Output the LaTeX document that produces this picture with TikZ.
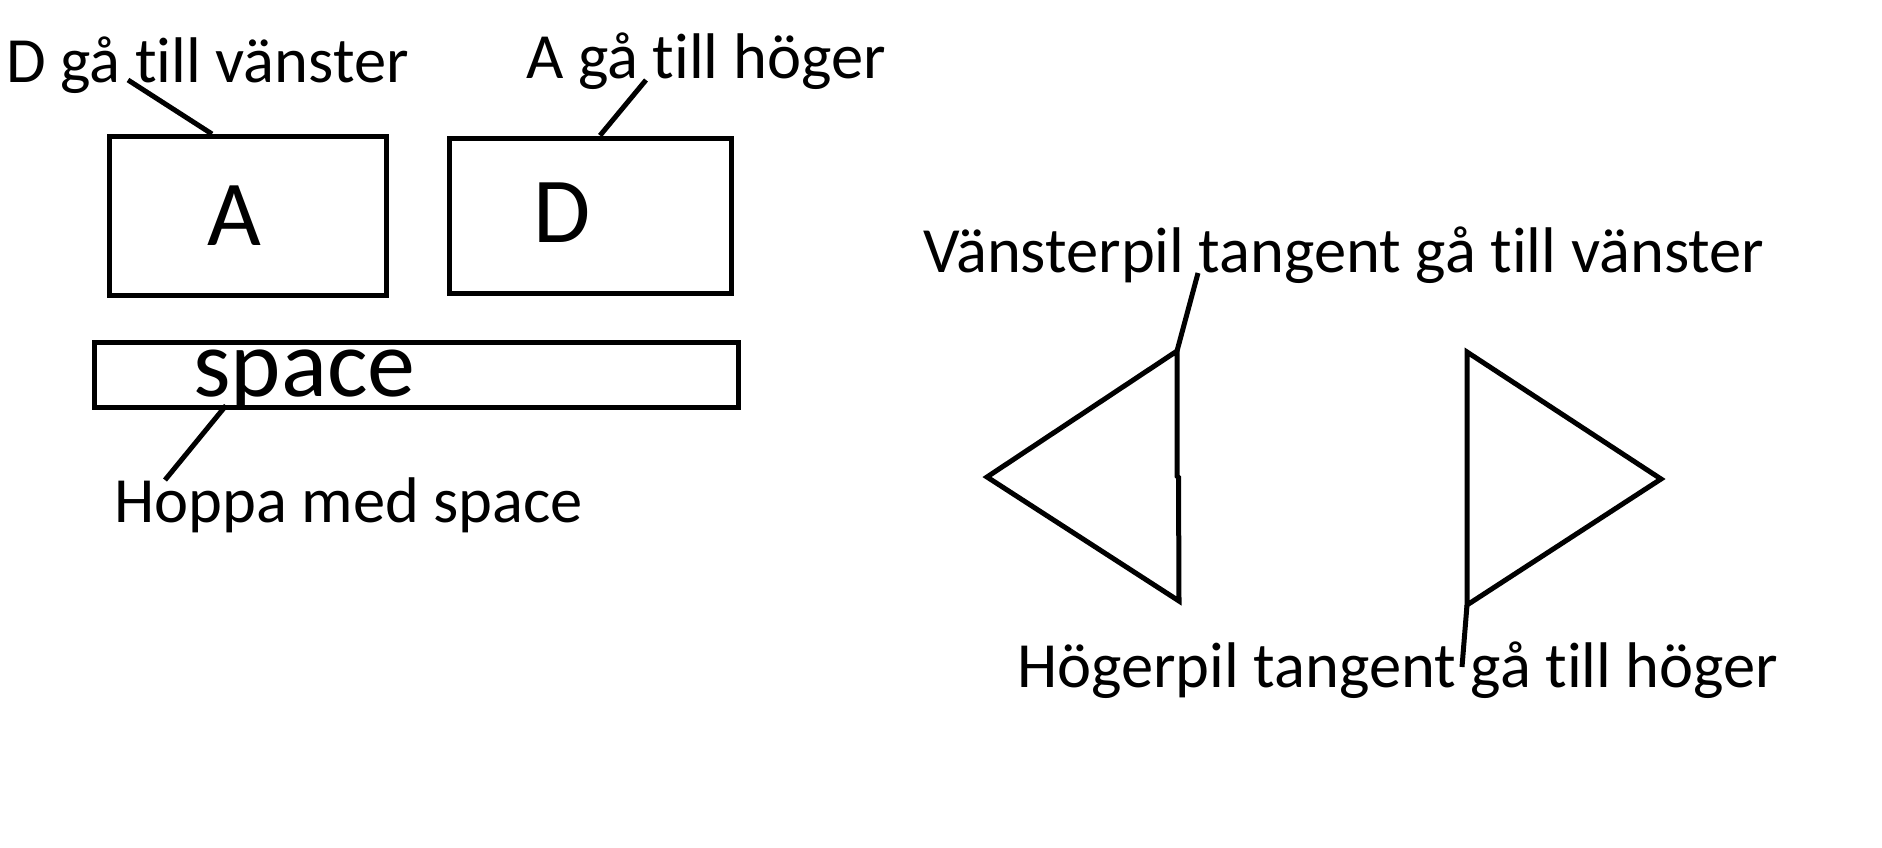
\documentclass[tikz,border=0pt]{standalone}
\usepackage{fontspec}
\setmainfont{Carlito}[RawFeature={-liga}]
\begin{document}
\begin{tikzpicture}[x=1pt,y=-1pt,
  ln/.style={line width=5pt, black},
  keybox/.style={draw, line width=5pt, rectangle, inner sep=0pt, anchor=north west},
  lbl/.style={inner sep=0pt, anchor=base west, font=\fontsize{64.5}{64.5}\selectfont},
  bigl/.style={inner sep=0pt, anchor=base west, font=\fontsize{93}{93}\selectfont}]
\useasboundingbox (0,0) rectangle (1882,847);
% boxes
\node[keybox, minimum width=277pt, minimum height=159pt] (boxA) at (107,134) {};
\node[keybox, minimum width=282pt, minimum height=155pt] (boxD) at (447,135.5) {};
\node[keybox, minimum width=644pt, minimum height=65pt] (boxS) at (92,340) {};
% letters in boxes
\node[bigl] (letA) at (207,245) {A};
\node[bigl] (letD) at (533,242) {D};
\begin{scope}
\clip (92,340) rectangle (736,405.5);
\node[inner sep=0pt, anchor=base west, font=\fontsize{96}{96}\selectfont] (letS) at (193,396) {space};
\end{scope}
% labels
\node[lbl] (labA) at (6,82) {D gå till vänster};
\node[lbl] (labD) at (526,78) {A gå till höger};
\node[lbl] (labS) at (114,522) {Hoppa med space};
\node[lbl] (labL) at (923,272) {Vänsterpil tangent gå till vänster};
\node[lbl] (labR) at (1017,687) {Högerpil tangent gå till höger};
% leader end points
\coordinate (a1) at (212,134);
\coordinate (a2) at (128,80);
\coordinate (d1) at (600,135.5);
\coordinate (d2) at (646,80);
\coordinate (s1) at (226,405.5);
\coordinate (s2) at (165,480);
% triangles
\coordinate (lt) at (987,477);
\coordinate (ltop) at (1177,351);
\coordinate (lmid) at (1177,476);
\coordinate (lmid2) at (1178.5,477.5);
\coordinate (lbot) at (1179,601);
\coordinate (l2) at (1198,273);
\coordinate (rtop) at (1467,352);
\coordinate (rbot) at (1467,605);
\coordinate (rtip) at (1661,479);
\coordinate (r2) at (1462,667);
\draw[ln, line join=miter] (lt) -- (ltop) -- (lmid) -- (lmid2) -- (lbot) -- cycle;
\draw[ln, line join=miter] (rtop) -- (rtip) -- (rbot) -- cycle;
% leaders
\draw[ln] (a1) -- (a2);
\draw[ln] (d1) -- (d2);
\draw[ln] (s1) -- (s2);
\draw[ln] (ltop) -- (l2);
\draw[ln] (rbot) -- (r2);
\end{tikzpicture}
\end{document}
